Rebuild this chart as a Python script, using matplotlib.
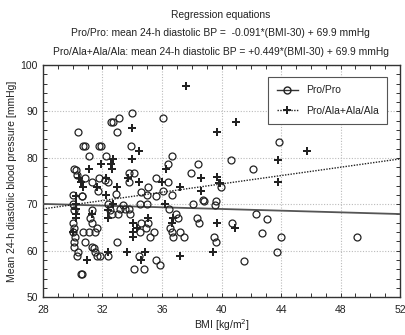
import matplotlib
matplotlib.use("Agg")
import matplotlib.pyplot as plt
import numpy as np
from matplotlib.ticker import MultipleLocator

plt.rcParams['font.family'] = ['Liberation Sans', 'DejaVu Sans']

# Pro/Pro genotype (open circles): BMI, diastolic BP
pro_bmi = [33.99, 32.56, 32.68, 33.1, 30.33, 33.0, 36.1, 30.7, 30.84, 31.78, 31.87, 33.9,
           31.1, 32.27, 36.7, 36.4, 38.4, 37.98, 30.08, 30.2, 30.26, 33.8, 34.1, 30.86,
           31.27, 31.8, 32.2, 32.4, 33.8, 35.6, 36.4, 35.07, 34.6, 31.7, 36.07, 36.7,
           34.96, 35.6, 30.6, 32.9, 30.03,
           30.04, 30.1, 30.04, 30.1, 30.04, 30.15, 30.1, 30.1, 30.37, 30.26, 30.64, 30.7,
           30.82, 30.53, 30.64, 31.27, 31.16, 31.27, 31.11, 31.49, 31.65, 31.27, 31.42,
           31.49, 31.65, 31.83, 32.39, 32.95, 32.39, 32.5, 32.61, 33.17, 33.35, 33.5,
           33.06, 33.8, 33.88, 34.51, 35.0, 34.62, 35.07, 34.51, 34.91, 35.45, 35.18,
           34.44, 35.63, 35.85, 34.11, 34.78, 36.48, 36.97, 37.08, 36.52, 36.64, 36.75,
           37.2, 37.46, 38.09, 38.36, 38.49, 38.76,
           38.85, 39.61, 39.55, 42.34, 43.08, 40.67, 42.72, 44.02, 39.48, 39.66, 43.73,
           41.49, 49.12, 43.84, 40.66, 42.1, 39.95]
pro_bp = [89.7, 87.65, 87.7, 88.6, 85.5, 85.5, 88.6, 82.5, 82.5, 82.5, 82.5, 82.5,
          80.5, 80.5, 80.5, 78.6, 78.6, 76.7, 77.7, 77.4, 76.3, 76.7, 76.7, 75.6,
          74.8, 75.7, 75.2, 74.8, 74.9, 75.7, 74.8, 73.8, 72.7, 72.8, 72.8, 72.0,
          72.0, 71.8, 71.8, 72.3, 72.0,
          70.05, 68.75, 66.0, 64.9, 64.1, 63.0, 61.9, 60.85, 59.8, 58.8, 71.8, 64.1,
          61.9, 54.9, 54.9, 68.75, 66.96, 65.9, 64.1, 64.1, 64.95, 60.85, 60.5,
          59.8, 58.8, 58.8, 58.8, 61.9, 70.05, 68.75, 68.0, 68.9, 69.8, 68.9,
          68.0, 68.9, 68.0, 70.05, 70.05, 65.9, 65.9, 64.1, 64.95, 64.1, 63.0,
          58.8, 58.0, 56.9, 56.0, 56.0, 68.9, 68.0, 66.96, 64.95, 64.1, 63.0,
          64.1, 63.0, 70.05, 66.96, 66.0, 70.9,
          70.8, 70.8, 69.8, 67.9, 66.8, 65.9, 63.9, 62.9, 63.0, 61.8, 59.8,
          57.8, 62.9, 83.5, 79.5, 77.7, 73.8]

# Pro/Ala + Ala/Ala genotype (plus markers)
ala_bmi = [37.6, 34.0, 39.7, 34.46, 34.0, 32.7, 31.9, 31.1, 32.56, 32.65, 36.3, 30.44,
           30.55, 30.66, 32.27, 33.7, 31.65, 32.99, 34.46, 36.03, 37.2, 38.65, 38.6,
           39.8, 30.2, 32.27,
           40.95, 45.74, 43.77, 39.7, 43.8, 39.9,
           30.22, 30.22, 30.19, 30.22, 30.04, 30.93, 31.27, 32.39, 32.39, 32.39, 32.68,
           34.02, 34.33, 34.06, 34.06, 35.07, 34.85, 33.66, 34.62, 36.19, 36.75, 36.64,
           37.2, 39.43, 39.7, 40.89]
ala_bp = [95.5, 86.5, 85.5, 81.5, 79.7, 79.7, 78.7, 77.7, 78.7, 77.7, 77.7, 75.6,
          74.9, 73.8, 75.7, 75.7, 73.8, 73.8, 74.8, 74.8, 73.8, 75.6, 72.8,
          74.5, 71.8, 72.0,
          87.65, 81.5, 79.5, 75.8, 74.8, 74.6,
          70.05, 68.9, 68.0, 66.96, 64.1, 58.0, 68.0, 66.96, 68.75, 59.8, 70.05,
          65.9, 64.95, 64.1, 63.0, 66.96, 59.8, 59.8, 58.0, 70.05, 66.96, 65.9,
          58.8, 59.8, 65.9, 64.8]

# regression coefficients
pro_slope, pro_int = -0.091, 69.9
ala_slope, ala_int = 0.449, 69.9

txt = '#222222'
fig = plt.figure(figsize=(4.05, 3.35), dpi=100)
ax = fig.add_axes([0.106, 0.113, 0.882, 0.693])

xs = np.array([28, 52])
ax.plot(xs, pro_slope * (xs - 30) + pro_int, color='#555555', lw=1.3, zorder=3)
ax.plot(xs, ala_slope * (xs - 30) + ala_int, color='#222222', lw=1.0,
        linestyle=(0, (1, 1)), zorder=3)

ax.plot(pro_bmi, pro_bp, linestyle='none', marker='o', ms=5, mfc='none',
        mec='#222222', mew=0.9, zorder=4)
ax.plot(ala_bmi, ala_bp, linestyle='none', marker='P', ms=5.5, color='#222222',
        mew=0, zorder=4)

# legend proxies
h1, = ax.plot([], [], color='#333333', lw=1, marker='o', ms=5, mfc='none',
              mec='#222222')
h2, = ax.plot([], [], color='#222222', lw=1, linestyle=(0, (1, 1)), marker='P',
              ms=5.5, mew=0)
leg = ax.legend([h1, h2], ['Pro/Pro', 'Pro/Ala+Ala/Ala'], loc='upper right',
                bbox_to_anchor=(0.978, 0.97), fontsize=7.5, fancybox=False,
                handlelength=2.0, labelspacing=1.0, borderpad=0.8,
                edgecolor='#555555', framealpha=1)
leg.get_frame().set_linewidth(0.8)
for t in leg.get_texts():
    t.set_color(txt)

ax.set_xlim(28, 52)
ax.set_ylim(50, 100)
ax.xaxis.set_major_locator(MultipleLocator(4))
ax.xaxis.set_minor_locator(MultipleLocator(1))
ax.yaxis.set_major_locator(MultipleLocator(10))
ax.yaxis.set_minor_locator(MultipleLocator(2))
ax.tick_params(which='both', direction='in', top=True, right=True, length=3,
               width=0.7, color='#333333', labelsize=7.5, labelcolor=txt)
ax.tick_params(axis='x', pad=6)
ax.grid(True, which='major', color='#bbbbbb', linestyle=(0, (1, 1.5)), lw=0.8)
for s in ax.spines.values():
    s.set_color('#333333')
    s.set_linewidth(1.0)

ax.set_xlabel('BMI [kg/m$^2$]', fontsize=7.5, color=txt, labelpad=1)
ax.set_ylabel('Mean 24-h diastolic blood pressure [mmHg]', fontsize=7.5, color=txt,
              labelpad=3)

fig.text(0.545, 0.955, 'Regression equations', ha='center', va='center',
         fontsize=7.4, color=txt)
fig.text(0.545, 0.9, 'Pro/Pro: mean 24-h diastolic BP =  -0.091*(BMI-30) + 69.9 mmHg',
         ha='center', va='center', fontsize=7.4, color=txt)
fig.text(0.545, 0.845,
         'Pro/Ala+Ala/Ala: mean 24-h diastolic BP = +0.449*(BMI-30) + 69.9 mmHg',
         ha='center', va='center', fontsize=7.4, color=txt)

fig.savefig('out.png', dpi=100)
